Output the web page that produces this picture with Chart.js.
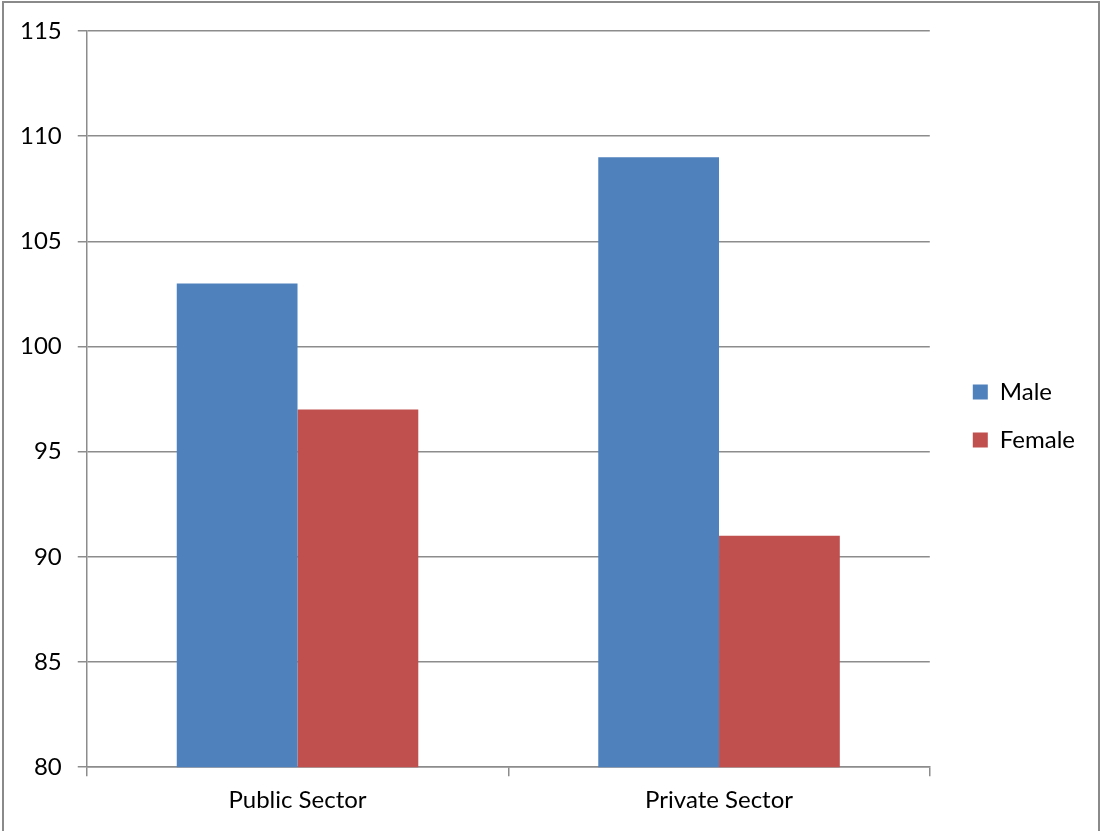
<!DOCTYPE html>
<html>
<head>
<meta charset="utf-8">
<title>Public vs Private Sector</title>
<script src="https://cdn.jsdelivr.net/npm/chart.js@4/dist/chart.umd.min.js"></script>
<style>
  html, body { margin: 0; padding: 0; background: #fff; }
  #wrap { position: relative; width: 1101px; height: 831px; }
</style>
</head>
<body>
<div id="wrap"><canvas id="myChart"></canvas></div>
<script>
// dati del grafico
var sectors = ["Public Sector", "Private Sector"];
var maleValues = [103, 109];
var femaleValues = [97, 91];
var seriesNames = ["Male", "Female"];

// cornice grigia attorno al grafico
var frame = {
  id: "frame",
  afterDraw: function (chart) {
    var ctx = chart.ctx;
    ctx.save();
    ctx.strokeStyle = "#8a8a8a";
    ctx.lineWidth = 2;
    ctx.beginPath();
    ctx.moveTo(3, 840);
    ctx.lineTo(3, 2);
    ctx.lineTo(1099, 2);
    ctx.lineTo(1099, 840);
    ctx.stroke();
    ctx.restore();
  }
};

// sposta la legenda: piu' staccata dal grafico e un po' piu' in alto
var legendGap = {
  id: "legendGap",
  afterLayout: function (chart) {
    chart.legend.left += 19;
    chart.legend.right += 19;
    chart.legend.top -= 12;
    chart.legend.bottom -= 12;
  }
};

function drawChart () {
  var ctx = document.getElementById("myChart").getContext("2d");
  var chart = new Chart(ctx, {
    type: "bar",
    data: {
      labels: sectors,
      datasets: [{
        label: seriesNames[0],
        backgroundColor: "rgb(79, 129, 189)",
        data: maleValues
      }, {
        label: seriesNames[1],
        backgroundColor: "rgb(192, 80, 77)",
        data: femaleValues
      }]
    },
    options: {
      responsive: false,
      animation: false,
      layout: { padding: { left: 4, right: 35, top: 31, bottom: 6 } },
      datasets: {
        bar: { categoryPercentage: 0.573, barPercentage: 1.0 }
      },
      scales: {
        x: {
          grid: {
            offset: true,
            drawOnChartArea: false,
            drawTicks: true,
            tickLength: 9,
            color: "#8c8c8c",
            lineWidth: 1.5
          },
          border: { color: "#8c8c8c", width: 1.5 },
          ticks: {
            color: "#000",
            padding: 10,
            font: { family: "Lato", size: 24 }
          }
        },
        y: {
          min: 80,
          max: 115,
          ticks: {
            stepSize: 5,
            color: "#000",
            padding: 16,
            font: { family: "Lato", size: 24 }
          },
          grid: {
            color: "#8c8c8c",
            lineWidth: 1.5,
            tickLength: 9
          },
          border: { color: "#8c8c8c", width: 1.5 }
        }
      },
      plugins: {
        legend: {
          position: "right",
          labels: {
            boxWidth: 15,
            boxHeight: 15,
            padding: 24,
            color: "#000",
            font: { family: "Lato", size: 24 }
          }
        },
        tooltip: { enabled: false }
      }
    },
    plugins: [frame, legendGap]
  });
  return chart;
}

var c = document.getElementById("myChart");
c.width = 1101;
c.height = 831;
c.style.width = "1101px";
c.style.height = "831px";
var chart = drawChart();
</script>
</body>
</html>
